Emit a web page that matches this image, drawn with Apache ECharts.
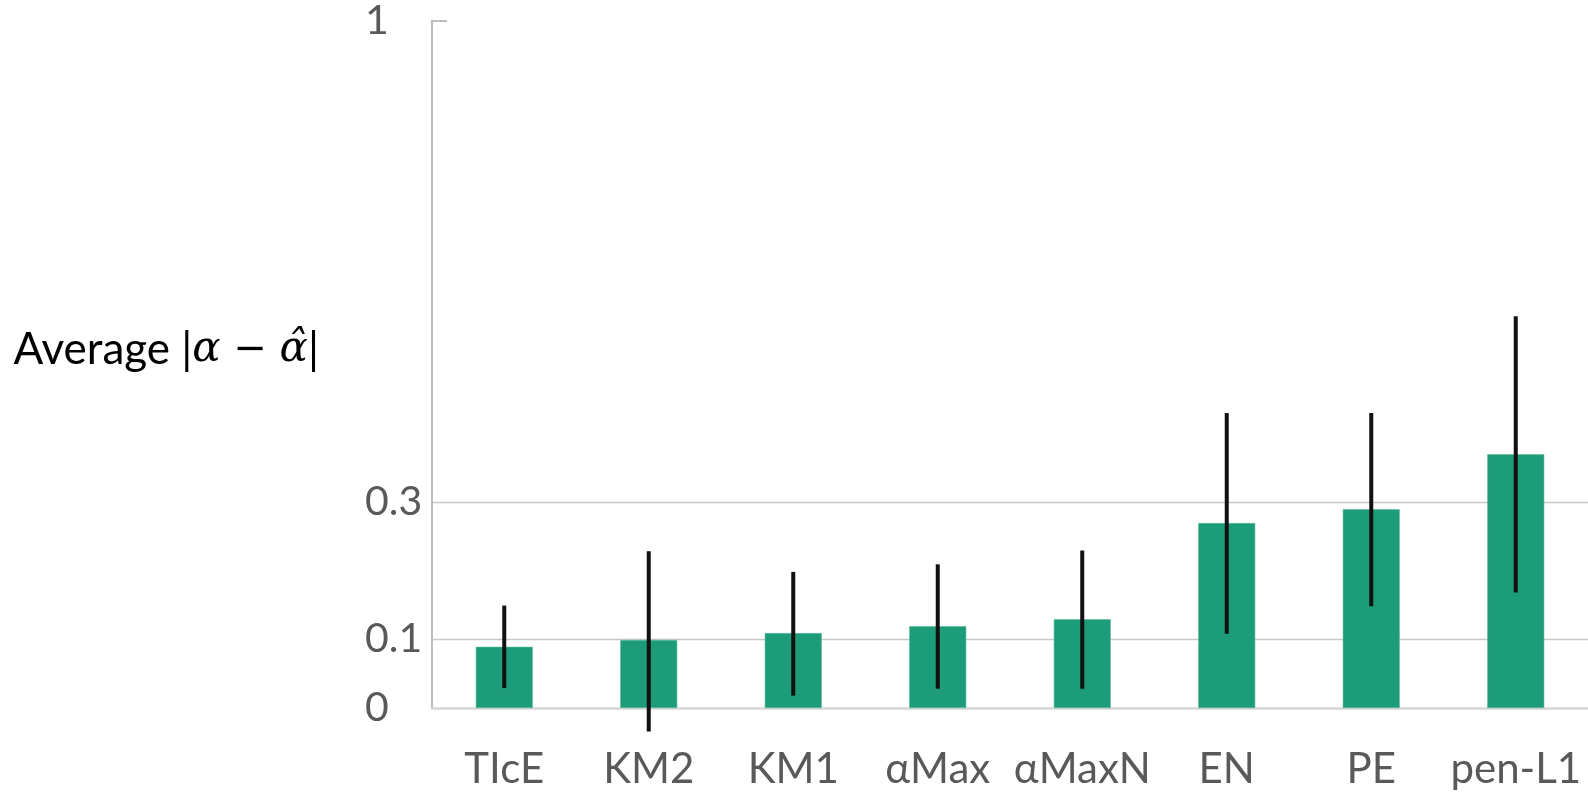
<!DOCTYPE html>
<html>
<head>
<meta charset="utf-8">
<script src="https://cdn.jsdelivr.net/npm/echarts@6/dist/echarts.min.js"></script>
<style>
html,body{margin:0;padding:0;background:#fff;}
#chart{width:1588px;height:796px;}
</style>
</head>
<body>
<div id="chart"></div>
<script>
// ---- data ----
const categories = ['TIcE', 'KM2', 'KM1', 'αMax', 'αMaxN', 'EN', 'PE', 'pen-L1'];
const meanError = [0.089, 0.099, 0.109, 0.119, 0.129, 0.269, 0.289, 0.369];
const errLow    = [0.029, -0.034, 0.018, 0.028, 0.028, 0.108, 0.148, 0.168];
const errHigh   = [0.149, 0.228, 0.198, 0.209, 0.229, 0.429, 0.429, 0.570];
const yTickLabels = [0, 0.1, 0.3, 1];
const gridValues = [0.1, 0.3];

const chart = echarts.init(document.getElementById('chart'), null, {renderer: 'canvas'});

const errData = categories.map((c, i) => [i, errLow[i], errHigh[i]]);

const option = {
  animation: false,
  backgroundColor: '#ffffff',
  grid: { left: 432, right: -3, top: 20, bottom: 88, containLabel: false },
  xAxis: {
    type: 'category',
    data: categories,
    axisLine: { show: true, lineStyle: { color: '#d6d6d6', width: 2.5 } },
    axisTick: { show: false },
    axisLabel: {
      interval: 0,
      margin: 40,
      color: '#595959',
      fontFamily: 'Lato',
      fontSize: 42
    },
    splitLine: { show: false }
  },
  yAxis: {
    type: 'value',
    min: 0,
    max: 1,
    interval: 0.1,
    name: '{t|Average }{t||}{i|α}{m| − }{i|α̂}{t||}',
    nameLocation: 'middle',
    nameRotate: 0,
    nameGap: 113,
    nameTextStyle: {
      padding: [0, 0, 28, 0],
      rich: {
        t: { fontFamily: 'Lato', fontSize: 44, color: '#000000' },
        m: { fontFamily: 'DejaVu Sans', fontSize: 40, color: '#000000' },
        i: { fontFamily: 'DejaVu Serif', fontStyle: 'italic', fontSize: 42, color: '#000000' }
      }
    },
    axisLine: { show: true, lineStyle: { color: '#bdbdbd', width: 2 } },
    axisTick: { show: true, inside: true, length: 15, customValues: [1], lineStyle: { color: '#bdbdbd', width: 2 } },
    axisLabel: {
      customValues: yTickLabels,
      align: 'left',
      margin: 67,
      color: '#595959',
      fontFamily: 'Lato',
      fontSize: 41,
      formatter: v => String(Math.round(v * 10) / 10)
    },
    splitLine: { show: false }
  },
  series: [
    {
      type: 'bar',
      data: meanError,
      barWidth: 57,
      itemStyle: { color: '#1d9c79', borderColor: '#5cb89c', borderWidth: 0.6 },
      markLine: {
        silent: true,
        symbol: 'none',
        label: { show: false },
        lineStyle: { color: '#c8c8c8', width: 1.3, type: 'solid' },
        data: gridValues.map(v => ({ yAxis: v })),
        z: 0
      },
      z: 2
    },
    {
      type: 'custom',
      clip: false,
      z: 5,
      data: errData,
      renderItem: function (params, api) {
        const x = api.value(0);
        const p1 = api.coord([x, api.value(1)]);
        const p2 = api.coord([x, api.value(2)]);
        return {
          type: 'line',
          shape: { x1: p1[0], y1: p1[1], x2: p2[0], y2: p2[1] },
          style: { stroke: '#111111', lineWidth: 4 }
        };
      }
    }
  ]
};

chart.setOption(option);
</script>
</body>
</html>
